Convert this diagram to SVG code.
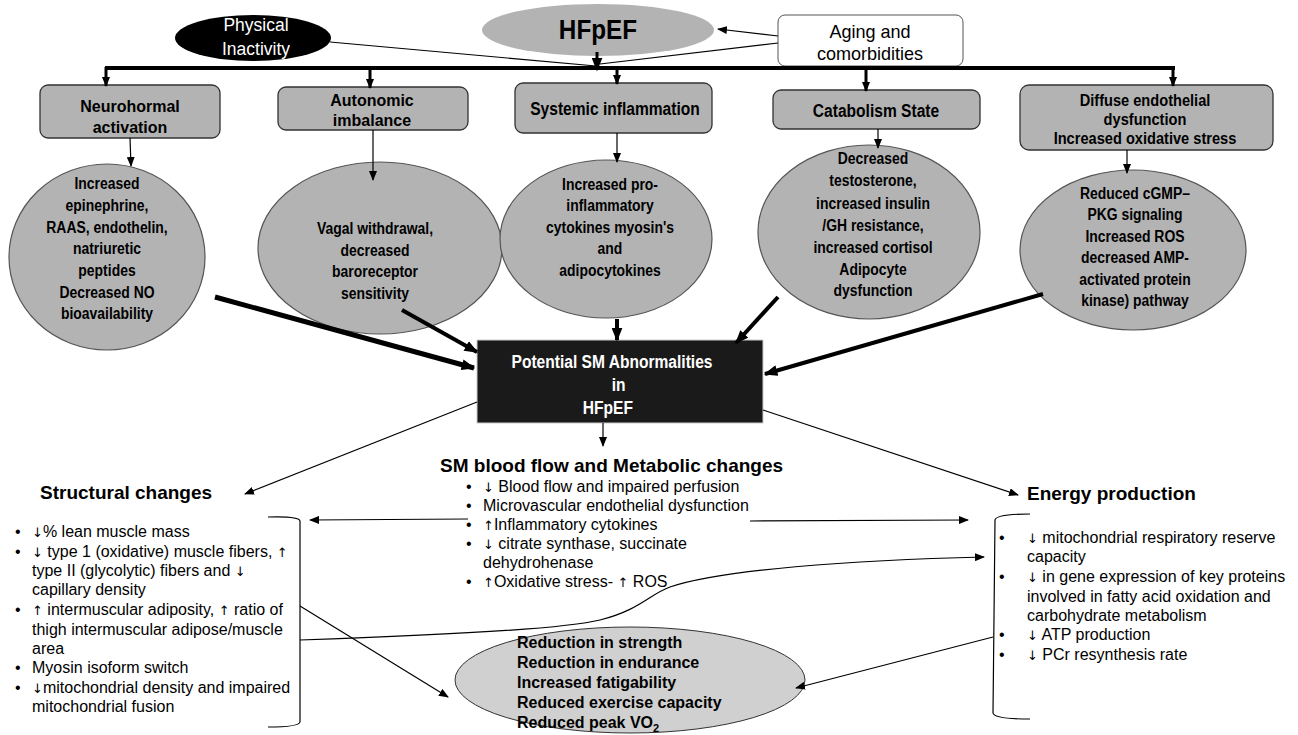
<svg xmlns="http://www.w3.org/2000/svg" width="1298" height="735" viewBox="0 0 1298 735">
<style>
.box{fill:#b3b3b3;stroke:#333;stroke-width:1.3}
.ell{fill:#b3b3b3;stroke:#555;stroke-width:1.2}
.b{font-family:"Liberation Sans","DejaVu Sans",sans-serif;font-weight:bold;fill:#000}
.r{font-family:"Liberation Sans","DejaVu Sans",sans-serif;fill:#000}
.w{font-family:"Liberation Sans","DejaVu Sans",sans-serif;fill:#fff}
.ar{font-family:"DejaVu Sans",sans-serif;font-size:13px;fill:#000}
.thin{stroke:#000;stroke-width:1.2;fill:none}
.med{stroke:#000;stroke-width:3;fill:none}
.thick{stroke:#000;stroke-width:5;fill:none}
</style>
<defs>
<marker id="a" viewBox="0 0 10 8" refX="9" refY="4" markerWidth="10" markerHeight="8" markerUnits="userSpaceOnUse" orient="auto"><path d="M0,0 L10,4 L0,8 z" fill="#000"/></marker>
<marker id="aL" viewBox="0 0 10 8" refX="9" refY="4" markerWidth="14" markerHeight="11" markerUnits="userSpaceOnUse" orient="auto"><path d="M0,0 L10,4 L0,8 z" fill="#000"/></marker>
</defs>
<rect width="1298" height="735" fill="#fff"/>

<g id="physical-inactivity">
<ellipse cx="253" cy="38" rx="78" ry="23" fill="#000"/>
<text class="w" font-size="19" text-anchor="middle" transform="translate(256,0) scale(0.92,1)"><tspan x="0" y="31">Physical</tspan><tspan x="0" y="55">Inactivity</tspan></text>
</g>

<g id="hfpef">
<ellipse cx="598" cy="30" rx="116" ry="26" fill="#b3b3b3"/>
<text class="b" font-size="27" text-anchor="middle" transform="translate(598,39) scale(0.9,1)">HFpEF</text>
</g>

<g id="aging">
<rect x="778" y="15" width="185" height="51" rx="7" fill="#fff" stroke="#555" stroke-width="1"/>
<text class="r" font-size="19" text-anchor="middle" transform="translate(870,0) scale(0.95,1)"><tspan x="0" y="38">Aging and</tspan><tspan x="0" y="60">comorbidities</tspan></text>
</g>

<g id="neurohormal">
<rect class="box" x="40" y="85" width="180" height="53" rx="8"/>
<text class="b" font-size="16" text-anchor="middle"><tspan x="130" y="112">Neurohormal</tspan><tspan x="130" y="133">activation</tspan></text>
</g>
<g id="autonomic">
<rect class="box" x="278" y="87" width="190" height="43" rx="8"/>
<text class="b" font-size="16" text-anchor="middle"><tspan x="372" y="106">Autonomic</tspan><tspan x="372" y="126">imbalance</tspan></text>
</g>
<g id="systemic">
<rect class="box" x="515" y="83" width="197" height="50" rx="8"/>
<text class="b" font-size="19" text-anchor="middle" transform="translate(615,115) scale(0.82,1)">Systemic inflammation</text>
</g>
<g id="catabolism">
<rect class="box" x="773" y="90" width="207" height="39" rx="8"/>
<text class="b" font-size="19" text-anchor="middle" transform="translate(876,117) scale(0.82,1)">Catabolism State</text>
</g>
<g id="diffuse">
<rect class="box" x="1020" y="85" width="253" height="65" rx="9"/>
<text class="b" font-size="17" text-anchor="middle" transform="translate(1145,0) scale(0.86,1)"><tspan x="0" y="106">Diffuse endothelial</tspan><tspan x="0" y="125">dysfunction</tspan><tspan x="0" y="144">Increased oxidative stress</tspan></text>
</g>

<g id="ell-neuro">
<ellipse class="ell" cx="107" cy="257" rx="98" ry="93"/>
<text class="b" font-size="17" text-anchor="middle" transform="translate(107,0) scale(0.82,1)"><tspan x="0" y="189">Increased</tspan><tspan x="0" y="211">epinephrine,</tspan><tspan x="0" y="233">RAAS, endothelin,</tspan><tspan x="0" y="254">natriuretic</tspan><tspan x="0" y="276">peptides</tspan><tspan x="0" y="298">Decreased NO</tspan><tspan x="0" y="319">bioavailability</tspan></text>
</g>
<g id="ell-auto">
<ellipse class="ell" cx="380" cy="248" rx="122" ry="86"/>
<text class="b" font-size="17" text-anchor="middle" transform="translate(375,0) scale(0.82,1)"><tspan x="0" y="234">Vagal withdrawal,</tspan><tspan x="0" y="256">decreased</tspan><tspan x="0" y="277">baroreceptor</tspan><tspan x="0" y="299">sensitivity</tspan></text>
</g>
<g id="ell-infl">
<ellipse class="ell" cx="606" cy="239" rx="106" ry="79"/>
<text class="b" font-size="17" text-anchor="middle" transform="translate(610,0) scale(0.82,1)"><tspan x="0" y="190">Increased pro-</tspan><tspan x="0" y="211">inflammatory</tspan><tspan x="0" y="233">cytokines myosin's</tspan><tspan x="0" y="254">and</tspan><tspan x="0" y="276">adipocytokines</tspan></text>
</g>
<g id="ell-cata">
<ellipse class="ell" cx="869" cy="232" rx="111" ry="87"/>
<text class="b" font-size="17" text-anchor="middle" transform="translate(873,0) scale(0.82,1)"><tspan x="0" y="164">Decreased</tspan><tspan x="0" y="186">testosterone,</tspan><tspan x="0" y="209">increased insulin</tspan><tspan x="0" y="231">/GH resistance,</tspan><tspan x="0" y="253">increased cortisol</tspan><tspan x="0" y="275">Adipocyte</tspan><tspan x="0" y="296">dysfunction</tspan></text>
</g>
<g id="ell-endo">
<ellipse class="ell" cx="1133" cy="250" rx="113" ry="80"/>
<text class="b" font-size="17" text-anchor="middle" transform="translate(1135,0) scale(0.82,1)"><tspan x="0" y="199">Reduced cGMP–</tspan><tspan x="0" y="220">PKG signaling</tspan><tspan x="0" y="242">Increased ROS</tspan><tspan x="0" y="263">decreased AMP-</tspan><tspan x="0" y="285">activated protein</tspan><tspan x="0" y="306">kinase) pathway</tspan></text>
</g>

<g id="central">
<rect x="477" y="340" width="286" height="83" fill="#1a1a1a" stroke="#ccc" stroke-width="1"/>
<text class="w" font-weight="bold" font-size="19" text-anchor="middle" transform="translate(612,0) scale(0.82,1)"><tspan x="0" y="368">Potential SM Abnormalities</tspan><tspan x="8" y="391">in</tspan><tspan x="-5" y="414">HFpEF</tspan></text>
</g>

<g id="blood-flow">
<text class="b" font-size="19" x="440" y="472">SM blood flow and Metabolic changes</text>
<text class="r" font-size="16">
<tspan x="466" y="492">•</tspan><tspan x="483" y="492"><tspan class="ar">↓</tspan> Blood flow and impaired perfusion</tspan>
<tspan x="466" y="511">•</tspan><tspan x="483" y="511">Microvascular endothelial dysfunction</tspan>
<tspan x="466" y="530">•</tspan><tspan x="483" y="530"><tspan class="ar">↑</tspan>Inflammatory  cytokines</tspan>
<tspan x="466" y="549">•</tspan><tspan x="483" y="549"><tspan class="ar">↓</tspan> citrate synthase,  succinate</tspan>
<tspan x="483" y="568">dehydrohenase</tspan>
<tspan x="466" y="587">•</tspan><tspan x="483" y="587"><tspan class="ar">↑</tspan>Oxidative stress- <tspan class="ar">↑</tspan> ROS</tspan>
</text>
</g>

<g id="structural">
<text class="b" font-size="19" x="40" y="499">Structural changes</text>
<path class="thin" d="M268,517 Q299,516 300,521 L300,722 Q299,727 268,727"/>
<text class="r" font-size="16">
<tspan x="15" y="537">•</tspan><tspan x="32" y="537"><tspan class="ar">↓</tspan>% lean muscle mass</tspan>
<tspan x="15" y="557">•</tspan><tspan x="32" y="557"><tspan class="ar">↓</tspan> type 1 (oxidative) muscle fibers, <tspan class="ar">↑</tspan></tspan>
<tspan x="32" y="576">type II (glycolytic)  fibers and <tspan class="ar">↓</tspan></tspan>
<tspan x="32" y="595">capillary density</tspan>
<tspan x="15" y="615">•</tspan><tspan x="32" y="615"><tspan class="ar">↑</tspan> intermuscular  adiposity, <tspan class="ar">↑</tspan> ratio of</tspan>
<tspan x="32" y="635">thigh intermuscular  adipose/muscle</tspan>
<tspan x="32" y="654">area</tspan>
<tspan x="15" y="673">•</tspan><tspan x="32" y="673">Myosin isoform switch</tspan>
<tspan x="15" y="693">•</tspan><tspan x="32" y="693"><tspan class="ar">↓</tspan>mitochondrial density and impaired</tspan>
<tspan x="32" y="712">mitochondrial fusion</tspan>
</text>
</g>

<g id="energy">
<text class="b" font-size="19" x="1027" y="500">Energy production</text>
<path class="thin" d="M1030,514 Q996,514 995,520 L993,713 Q994,719 1030,719"/>
<text class="r" font-size="16">
<tspan x="999" y="543">•</tspan><tspan x="1027" y="543"><tspan class="ar">↓</tspan> mitochondrial  respiratory reserve</tspan>
<tspan x="1027" y="562">capacity</tspan>
<tspan x="999" y="582">•</tspan><tspan x="1027" y="582"><tspan class="ar">↓</tspan> in gene expression of key proteins</tspan>
<tspan x="1027" y="602">involved  in fatty acid oxidation and</tspan>
<tspan x="1027" y="621">carbohydrate  metabolism</tspan>
<tspan x="999" y="640">•</tspan><tspan x="1027" y="640"><tspan class="ar">↓</tspan> ATP production</tspan>
<tspan x="999" y="660">•</tspan><tspan x="1027" y="660"><tspan class="ar">↓</tspan> PCr resynthesis  rate</tspan>
</text>
</g>

<g id="outcomes">
<ellipse cx="630" cy="680" rx="175" ry="53" fill="#d0d0d0" stroke="#333" stroke-width="1"/>
<text class="b" font-size="16">
<tspan x="517" y="648">Reduction in strength</tspan>
<tspan x="517" y="668">Reduction in endurance</tspan>
<tspan x="517" y="688">Increased fatigability</tspan>
<tspan x="517" y="708">Reduced exercise capacity</tspan>
<tspan x="517" y="728">Reduced peak VO<tspan font-size="11" dy="4">2</tspan></tspan>
</text>
</g>

<g id="connectors">
<line class="thin" x1="330" y1="42" x2="596" y2="66"/>
<line class="thin" x1="778" y1="43" x2="600" y2="64"/>
<line class="thin" x1="778" y1="36" x2="718" y2="29" marker-end="url(#a)"/>
<line class="med" x1="597" y1="52" x2="597" y2="70" marker-end="url(#aL)"/>
<line x1="105" y1="68" x2="1175" y2="68" stroke="#000" stroke-width="4"/>
<line class="med" x1="106" y1="67" x2="106" y2="86" marker-end="url(#a)"/>
<line class="med" x1="370" y1="67" x2="370" y2="88" marker-end="url(#a)"/>
<line class="med" x1="617" y1="67" x2="617" y2="84" marker-end="url(#a)"/>
<line class="med" x1="866" y1="67" x2="866" y2="91" marker-end="url(#a)"/>
<line class="med" x1="1173" y1="67" x2="1173" y2="86" marker-end="url(#a)"/>
<line class="thin" x1="130" y1="138" x2="131" y2="166" marker-end="url(#a)"/>
<line class="thin" x1="373" y1="130" x2="373" y2="180" marker-end="url(#a)"/>
<line class="thin" x1="617" y1="133" x2="617" y2="162" marker-end="url(#a)"/>
<line class="thin" x1="878" y1="129" x2="878" y2="148" marker-end="url(#a)"/>
<line class="thin" x1="1127" y1="150" x2="1127" y2="173" marker-end="url(#a)"/>
<line class="thick" x1="215" y1="297" x2="474" y2="368" marker-end="url(#aL)"/>
<line x1="402" y1="310" x2="477" y2="352" stroke="#000" stroke-width="4" marker-end="url(#aL)"/>
<line x1="617" y1="319" x2="617" y2="340" stroke="#000" stroke-width="4" marker-end="url(#aL)"/>
<line x1="778" y1="297" x2="736" y2="343" stroke="#000" stroke-width="4" marker-end="url(#aL)"/>
<line x1="1043" y1="294" x2="765" y2="374" stroke="#000" stroke-width="4" marker-end="url(#aL)"/>
<line class="thin" x1="477" y1="402" x2="245" y2="494" marker-end="url(#a)"/>
<line class="thin" x1="763" y1="410" x2="1018" y2="495" marker-end="url(#a)"/>
<line class="thin" x1="603" y1="423" x2="603" y2="446" marker-end="url(#a)"/>
<line class="thin" x1="468" y1="519" x2="310" y2="520" marker-end="url(#a)"/>
<line class="thin" x1="750" y1="521" x2="968" y2="520" marker-end="url(#a)"/>
<path class="thin" d="M300,640 C420,636 560,630 600,620 C640,610 650,594 670,587 C720,570 850,560 984,557" marker-end="url(#a)"/>
<line class="thin" x1="300" y1="606" x2="448" y2="697" marker-end="url(#a)"/>
<line class="thin" x1="993" y1="637" x2="796" y2="688" marker-end="url(#a)"/>
</g>
</svg>
